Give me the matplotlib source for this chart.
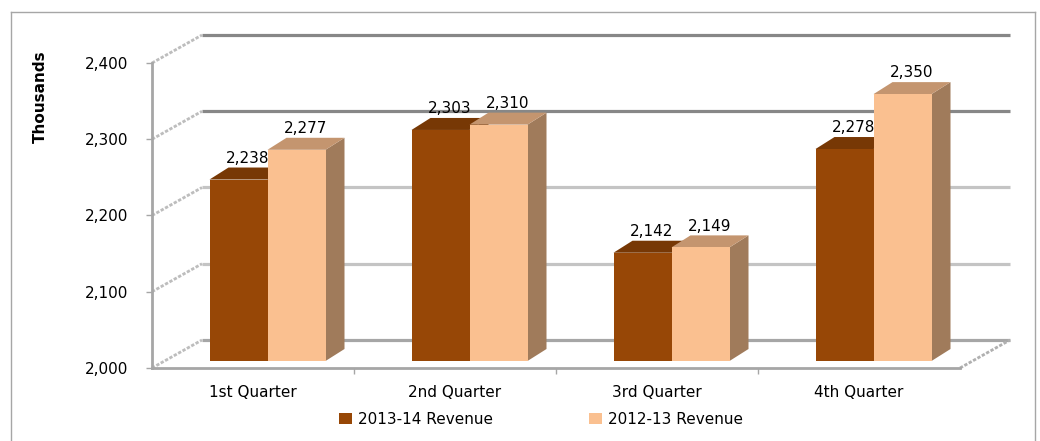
import matplotlib
matplotlib.use("Agg")
import matplotlib.pyplot as plt
from matplotlib.patches import Polygon, Patch
from matplotlib.lines import Line2D
from matplotlib.ticker import FuncFormatter

quarters = ["1st Quarter", "2nd Quarter", "3rd Quarter", "4th Quarter"]
rev_2013_14 = [2238, 2303, 2142, 2278]
rev_2012_13 = [2277, 2310, 2149, 2350]
series_names = ["2013-14 Revenue", "2012-13 Revenue"]
y_ticks = [2000, 2100, 2200, 2300, 2400]

plt.rcParams["font.family"] = ["DejaVu Sans"]

fig = plt.figure(figsize=(10.4, 4.41), dpi=100)
# front plane of the 3d box (pixels converted to figure fraction)
ax = fig.add_axes([152 / 1040, 1 - 368 / 441, 808 / 1040, 305 / 441])
ax.set_xlim(0, 4)
ax.set_ylim(2000, 2400)

# pixel -> data conversion for depth offsets
px_x = 4 / 808
px_y = 400 / 305

wall_dx, wall_dy = 50 * px_x, 28 * px_y      # back wall offset
front_dx, front_dy = 14.5 * px_x, 7 * px_y   # bar front plane offset
bar_dx, bar_dy = 19 * px_x, 12 * px_y        # bar depth
bar_w = 58 * px_x

# back wall gridlines and side wall diagonals
grid_colors = {2000: "#a6a6a6", 2100: "#c4c4c4", 2200: "#c4c4c4",
               2300: "#878787", 2400: "#878787"}
for v in y_ticks:
    ax.plot([wall_dx, 4 + wall_dx], [v + wall_dy, v + wall_dy],
            color=grid_colors[v], lw=2.3, solid_capstyle="butt",
            clip_on=False, zorder=1)
    ax.plot([0, wall_dx], [v, v + wall_dy], color="#bdbdbd", lw=2,
            ls=(0, (1.2, 0.6)), clip_on=False, zorder=1)
# floor right edge
ax.plot([4, 4 + wall_dx], [2000, 2000 + wall_dy], color="#b0b0b0", lw=2,
        ls=(0, (1.2, 0.6)), clip_on=False, zorder=1)

styles = [
    dict(front="#974706", top="#773805", side="#6a3204"),
    dict(front="#fac090", top="#c4956f", side="#a07b5b"),
]
series = [rev_2013_14, rev_2012_13]

base = 2000 + front_dy
for s, vals in enumerate(series):
    st = styles[s]
    lefts = [i + 0.5 - bar_w + s * bar_w + front_dx for i in range(len(vals))]
    tops = [v + front_dy for v in vals]
    for x0, top in zip(lefts, tops):
        x1 = x0 + bar_w
        side = Polygon([(x1, base), (x1 + bar_dx, base + bar_dy),
                        (x1 + bar_dx, top + bar_dy), (x1, top)],
                       closed=True, fc=st["side"], ec="none",
                       clip_on=False, zorder=2 + s)
        ax.add_patch(side)
        lid = Polygon([(x0, top), (x1, top), (x1 + bar_dx, top + bar_dy),
                       (x0 + bar_dx, top + bar_dy)],
                      closed=True, fc=st["top"], ec="none",
                      clip_on=False, zorder=2 + s)
        ax.add_patch(lid)
    ax.bar(lefts, [t - base for t in tops], bottom=base, width=bar_w,
           align="edge", color=st["front"], edgecolor="none",
           clip_on=False, zorder=2.5 + s)
    for x0, top, v in zip(lefts, tops, vals):
        ax.annotate(f"{v:,}", (x0 + bar_w / 2 + bar_dx / 2, top + bar_dy),
                    xytext=(0, 3.5), textcoords="offset points",
                    ha="center", va="baseline", fontsize=11, zorder=6,
                    annotation_clip=False)

# axes styling
for side in ["top", "right"]:
    ax.spines[side].set_visible(False)
ax.spines["left"].set_color("#a6a6a6")
ax.spines["left"].set_linewidth(2)
ax.spines["bottom"].set_color("#a6a6a6")
ax.spines["bottom"].set_linewidth(2)
ax.set_yticks(y_ticks)
ax.yaxis.set_major_formatter(FuncFormatter(lambda v, p: f"{int(v):,}"))
ax.tick_params(axis="y", length=4, width=1, color="#a6a6a6",
               labelsize=11, pad=13)
ax.set_xticks([0.5, 1.5, 2.5, 3.5])
ax.set_xticklabels(quarters)
ax.set_xticks([1, 2, 3], minor=True)
ax.tick_params(axis="x", which="major", length=0, labelsize=11, pad=12)
ax.tick_params(axis="x", which="minor", length=4, width=1, color="#a6a6a6")

fig.text(40 / 1040, 1 - 97 / 441, "Thousands", rotation=90, ha="center",
         va="center", fontsize=11, fontweight="bold",
         family=["Liberation Sans Narrow", "DejaVu Sans"])

handles = [Patch(facecolor=styles[0]["front"]), Patch(facecolor=styles[1]["front"])]
fig.legend(handles, series_names, loc="center", ncol=2,
           bbox_to_anchor=(541 / 1040, 1 - 419 / 441), frameon=False,
           fontsize=11, handlelength=0.85, handleheight=0.7,
           handletextpad=0.4, columnspacing=6.3)

# outer chart border
border = dict(color="#a6a6a6", lw=1)
fig.add_artist(Line2D([11 / 1040, 11 / 1040], [0, 1 - 12 / 441], **border))
fig.add_artist(Line2D([11 / 1040, 1035 / 1040], [1 - 12 / 441, 1 - 12 / 441], **border))
fig.add_artist(Line2D([1035 / 1040, 1035 / 1040], [0, 1 - 12 / 441], **border))

fig.savefig("out.png", dpi=100)
